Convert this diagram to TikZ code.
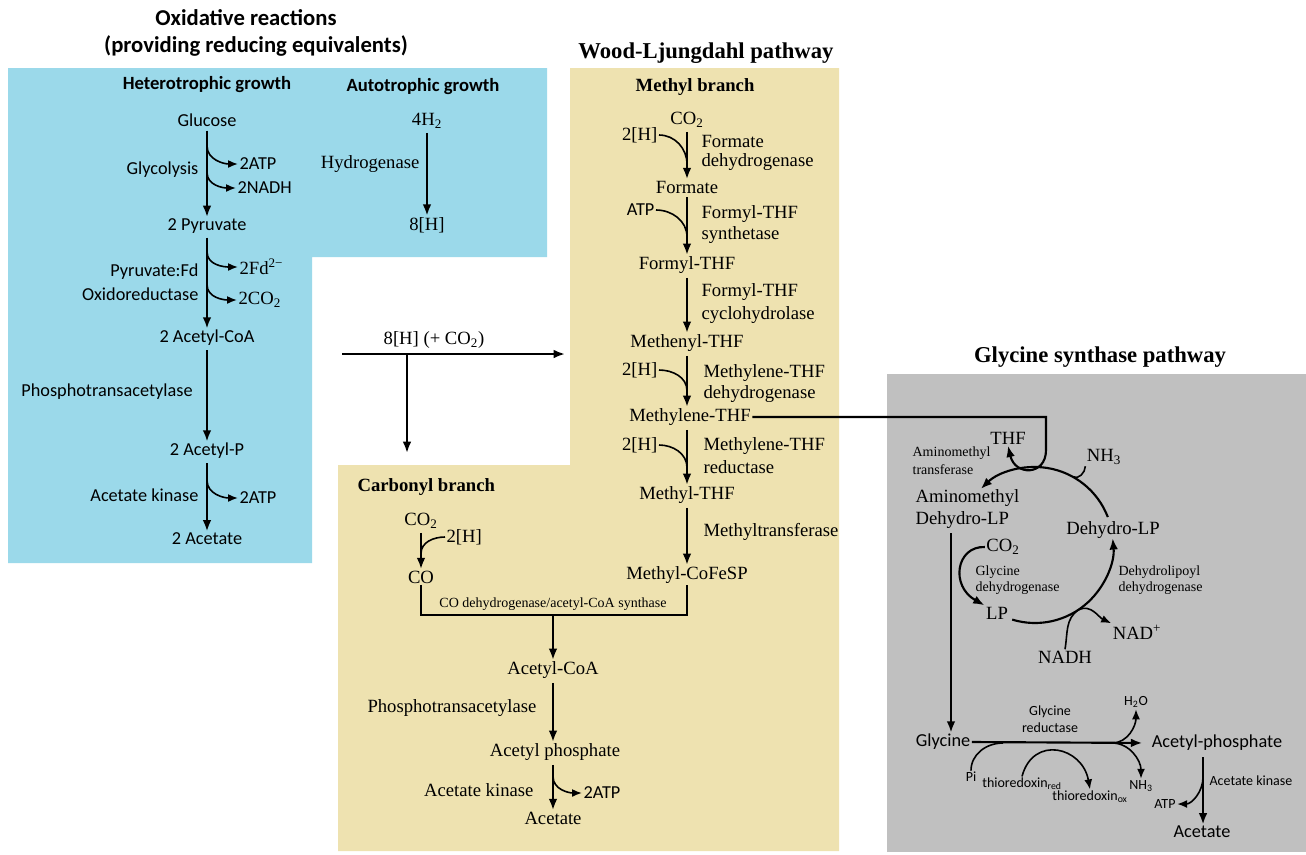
\documentclass[tikz,border=0pt]{standalone}
\usepackage{fontspec}
\setmainfont{Liberation Serif}
\newfontfamily\calfont{Carlito}
\usetikzlibrary{arrows.meta,calc}
\definecolor{bluebg}{RGB}{155,217,234}
\definecolor{tanbg}{RGB}{238,226,176}
\definecolor{graybg}{RGB}{192,192,192}
\newcommand\tsub[1]{\textsubscript{#1}}
\newcommand\tsup[1]{\textsuperscript{#1}}
\tikzset{
 cal/.style={font=\calfont\fontsize{13.7}{16}\selectfont, inner sep=1pt},
 calsm/.style={font=\calfont\fontsize{10.5}{12}\selectfont, inner sep=1pt},
 calhead/.style={font=\calfont\bfseries\fontsize{14}{16}\selectfont, inner sep=1pt},
 caltitle/.style={font=\calfont\bfseries\fontsize{17}{20}\selectfont, inner sep=1pt},
 tms/.style={font=\fontsize{14}{16}\selectfont, inner sep=1pt},
 tmssm/.style={font=\fontsize{10.5}{12}\selectfont, inner sep=1pt},
 tmshead/.style={font=\bfseries\fontsize{14}{16}\selectfont, inner sep=1pt},
 tmstitle/.style={font=\bfseries\fontsize{17}{20}\selectfont, inner sep=1pt},
 arr/.style={line width=1.6pt, -{Latex[length=8.5pt,width=6.5pt]}, shorten <=2pt},
 carr/.style={line width=1.6pt, -{Latex[length=8.5pt,width=6.5pt]}},
 sarr/.style={line width=1.2pt, -{Latex[length=7.5pt,width=6pt]}},
 sln/.style={line width=1.2pt},
 ln/.style={line width=1.6pt},
}
\begin{document}
\begin{tikzpicture}[x=0.75pt,y=0.75pt]
\useasboundingbox (0,0) rectangle (1306,-854);
% panels
\fill[bluebg] (8,-68) -- (547,-68) -- (547,-257) -- (312,-257) -- (312,-563) -- (8,-563) -- cycle;
\fill[tanbg] (570,-68) -- (839,-68) -- (839,-851) -- (338,-851) -- (338,-465) -- (570,-465) -- cycle;
\fill[graybg] (887,-374) rectangle (1306,-852);

% titles
\node[caltitle] (t1) at (246,-18) {Oxidative reactions};
\node[caltitle] (t2) at (256,-46) {(providing reducing equivalents)};
\node[tmstitle] (t3) at (706,-53) {Wood-Ljungdahl pathway};
\node[tmstitle] (t4) at (1100,-357) {Glycine synthase pathway};

% ---------------- blue panel
\node[calhead] (het) at (207,-85) {Heterotrophic growth};
\node[calhead] (aut) at (423,-87) {Autotrophic growth};
\node[cal] (glc) at (207,-120) {Glucose};
\node[cal] (pyr) at (207,-226) {2 Pyruvate};
\node[cal,anchor=east] (glyc) at (200,-170) {Glycolysis};
\node[cal,anchor=west] (atpA) at (238,-164) {2ATP};
\node[cal,anchor=west] (nadh) at (236,-188) {2NADH};
\draw[arr] (glc) -- (pyr);
\draw[sarr] ($(glc.south)!0.2!(pyr.north)$) to[out=-90,in=180] (atpA.west);
\draw[sarr] ($(glc.south)!0.5!(pyr.north)$) to[out=-90,in=180] (nadh.west);

\node[cal,anchor=east] (pfo1) at (200,-272) {Pyruvate:Fd};
\node[cal,anchor=east] (pfo2) at (200,-294) {Oxidoreductase};
\node[tms,anchor=west] (fd) at (238,-267) {2Fd\tsup{2−}};
\node[tms,anchor=west] (co2a) at (237,-300) {2CO\tsub{2}};
\node[cal] (acoa) at (207,-338) {2 Acetyl-CoA};
\draw[arr] (pyr) -- (acoa);
\draw[sarr] ($(pyr.south)!0.18!(acoa.north)$) to[out=-90,in=180] (fd.west);
\draw[sarr] ($(pyr.south)!0.53!(acoa.north)$) to[out=-90,in=180] (co2a.west);

\node[cal] (phta) at (107,-392) {Phosphotransacetylase};
\node[cal] (acp) at (207,-451) {2 Acetyl-P};
\draw[arr] (acoa) -- (acp);
\node[cal,anchor=east] (ak1) at (200,-495) {Acetate kinase};
\node[cal,anchor=west] (atpB) at (238,-498) {2ATP};
\node[cal] (ac1) at (207,-539) {2 Acetate};
\draw[arr] (acp) -- (ac1);
\draw[sarr] ($(acp.south)!0.28!(ac1.north)$) to[out=-90,in=180] (atpB.west);

\node[tms] (h2) at (427,-121) {4H\tsub{2}};
\node[tms] (h8) at (427,-225) {8[H]};
\node[tms,anchor=east] (hyd) at (421,-164) {Hydrogenase};
\draw[arr] (h2) -- (h8);

% 8[H] split
\node[tms] (h8b) at (434,-340) {8[H] (+ CO\tsub{2})};
\coordinate (hs) at (342,-354);
\coordinate (he) at (565,-354);
\coordinate (hb) at (407,-354);
\coordinate (hd) at (407,-453);
\draw[carr] (hs) -- (he);
\draw[carr] (hb) -- (hd);

% ---------------- methyl branch
\node[tmshead] (mb) at (695,-87) {Methyl branch};
\node[tms] (co2m) at (687,-120) {CO\tsub{2}};
\node[tms] (form) at (687,-187) {Formate};
\node[tms,anchor=east] (h2m1) at (659,-135) {2[H]};
\node[tms,anchor=west] (e1a) at (700,-141) {Formate};
\node[tms,anchor=west] (e1b) at (700,-162) {dehydrogenase};
\draw[arr] (co2m) -- (form);
\draw[sln] (h2m1.east) to[out=0,in=90] ($(co2m.south)!0.7!(form.north)$);

\node[tms] (fthf) at (687,-265) {Formyl-THF};
\node[cal,anchor=east] (atpm) at (656,-210) {ATP};
\node[tms,anchor=west] (e2a) at (700,-214) {Formyl-THF};
\node[tms,anchor=west] (e2b) at (700,-235) {synthetase};
\draw[arr] (form) -- (fthf);
\draw[sln] (atpm.east) to[out=0,in=90] ($(form.south)!0.7!(fthf.north)$);

\node[tms] (meth) at (687,-343) {Methenyl-THF};
\node[tms,anchor=west] (e3a) at (700,-292) {Formyl-THF};
\node[tms,anchor=west] (e3b) at (700,-315) {cyclohydrolase};
\draw[arr] (fthf) -- (meth);

\node[tms] (mlene) at (690,-417) {Methylene-THF};
\node[tms,anchor=east] (h2m2) at (659,-370) {2[H]};
\node[tms,anchor=west] (e4a) at (702,-373) {Methylene-THF};
\node[tms,anchor=west] (e4b) at (702,-394) {dehydrogenase};
\draw[arr] (meth.south) -- (meth.south |- mlene.north);
\draw[sln] (h2m2.east) to[out=0,in=90] ($(meth.south)!0.7!(meth.south |- mlene.north)$);

\node[tms] (mthf) at (687,-495) {Methyl-THF};
\node[tms,anchor=east] (h2m3) at (659,-445) {2[H]};
\node[tms,anchor=west] (e5a) at (702,-446) {Methylene-THF};
\node[tms,anchor=west] (e5b) at (702,-467) {reductase};
\draw[arr] (mthf.north |- mlene.south) -- (mthf.north);
\draw[sln] (h2m3.east) to[out=0,in=90] ($(mthf.north |- mlene.south)!0.7!(mthf.north)$);

\node[tms] (mcfs) at (687,-575) {Methyl-CoFeSP};
\node[tms,anchor=west] (e6) at (702,-532) {Methyltransferase};
\draw[arr] (mthf) -- (mcfs);

% ---------------- carbonyl branch
\node[tmshead,anchor=west] (cb) at (356,-487) {Carbonyl branch};
\node[tms] (co2c) at (421,-521) {CO\tsub{2}};
\node[tms] (co) at (421,-577) {CO};
\node[tms,anchor=west] (h2c) at (445,-537) {2[H]};
\draw[arr] (co2c) -- (co);
\draw[sln] (h2c.west) to[out=180,in=90] ($(co2c.south)!0.6!(co.north)$);

\coordinate (jy) at (0,-615);
\coordinate (jm) at (553,-615);
\draw[ln] (co.south) -- (co.south |- jy) -- (mcfs.south |- jy) -- (mcfs.south);
\node[tmssm] (codh) at (553,-604) {CO dehydrogenase/acetyl-CoA synthase};
\node[tms] (acoa2) at (553,-670) {Acetyl-CoA};
\draw[carr] (jm) -- (acoa2);
\node[tms] (phta2) at (452,-708) {Phosphotransacetylase};
\node[tms] (acp2) at (555,-752) {Acetyl phosphate};
\draw[arr] (acoa2.south) -- (acoa2.south |- acp2.north);
\node[tms,anchor=east] (ak2) at (535,-790) {Acetate kinase};
\node[cal,anchor=west] (atpC) at (582,-793) {2ATP};
\node[tms] (ac2) at (553,-818) {Acetate};
\draw[arr] (ac2.north |- acp2.south) -- (ac2.north);
\draw[sarr] ($(ac2.north |- acp2.south)!0.3!(ac2.north)$) to[out=-90,in=180] (atpC.west);

% ---------------- glycine synthase
\coordinate (cen) at (1035,-545);
\node[tms] (thf) at (1008,-438) {THF};
\node[tmssm,anchor=west] (amt1) at (911,-453) {Aminomethyl};
\node[tmssm,anchor=west] (amt2) at (911,-470) {transferase};
\node[tms] (nh3) at (1104,-457) {NH\tsub{3}};
\node[tms,anchor=west] (amd1) at (914,-498) {Aminomethyl};
\node[tms,anchor=west] (amd2) at (914,-520) {Dehydro-LP};
\node[tms] (dlp) at (1113,-530) {Dehydro-LP};
\node[tms] (co2g) at (1003,-547) {CO\tsub{2}};
\node[tmssm,anchor=west] (gd1) at (974,-572) {Glycine};
\node[tmssm,anchor=west] (gd2) at (974,-588) {dehydrogenase};
\node[tmssm,anchor=west] (dd1) at (1117,-572) {Dehydrolipoyl};
\node[tmssm,anchor=west] (dd2) at (1117,-588) {dehydrogenase};
\node[tms] (lp) at (997,-613) {LP};
\node[tms] (nadp) at (1137,-632) {NAD\tsup{+}};
\node[tms] (nadhg) at (1065,-657) {NADH};

\coordinate (c2) at (1046,-450);
\draw[carr] (mlene.east) -| (c2) .. controls (1046,-476) and (1015,-476) .. (thf.south);

\coordinate (a1s) at ($(cen)+(21:78)$);
\coordinate (a2s) at ($(cen)+(-107:78)$);
\coordinate (mnh) at ($(cen)+(61:78)$);
\coordinate (mnad) at ($(cen)+(-56:78)$);
\draw[carr] (a1s) arc[start angle=21,end angle=134,radius=78];
\draw[carr] (a2s) arc[start angle=-107,end angle=5,radius=78];
\draw[sln] (nh3.south west) to[out=-90,in=-30] (mnh);
\draw[sln] (nadhg.north) to[out=80,in=-146] (mnad);
\draw[sarr] (mnad) to[out=25,in=155] (nadp.north west);
\draw[carr] (co2g.west) .. controls (956,-546) and (950,-586) .. (lp.north west);

\node[cal] (gly) at (943,-742) {Glycine};
\node[cal] (accp) at (1217,-743) {Acetyl-phosphate};
\coordinate (vs) at (951,-533);
\draw[carr] (vs) -- (vs |- gly.north);
\draw[carr, shorten >=6pt] (gly.east) -- (accp.west);
\node[calsm] (gr1) at (1050,-712) {Glycine};
\node[calsm] (gr2) at (1050,-728) {reductase};
\node[calsm] (h2o) at (1136,-702) {H\tsub{2}O};
\node[calsm] (nh3b) at (1141,-786) {NH\tsub{3}};
\node[calsm] (pi) at (971,-777) {Pi};
\node[calsm] (tred) at (1022,-784) {thioredoxin\tsub{red}};
\node[calsm] (tox) at (1090,-797) {thioredoxin\tsub{ox}};
\coordinate (b1) at (1112,-743);
\coordinate (m3) at (1003,-743);
\draw[sarr] (b1) to[out=0,in=-90] (h2o.south);
\draw[sarr] (b1) to[out=0,in=90] (nh3b.north);
\draw[sln] (pi.north) to[out=90,in=180] (m3);
\draw[sarr] (tred.north) to[out=75,in=100,looseness=1.6] (tox.north);

\node[cal] (acet3) at (1202,-832) {Acetate};
\node[calsm,anchor=west] (ak3) at (1208,-781) {Acetate kinase};
\node[calsm] (atp3) at (1165,-804) {ATP};
\coordinate (k1) at (1203,-757);
\draw[carr] (k1) -- (k1 |- acet3.north);
\draw[sarr] ($(k1)!0.3!(k1 |- acet3.north)$) to[out=-90,in=0] (atp3.east);
\end{tikzpicture}
\end{document}
